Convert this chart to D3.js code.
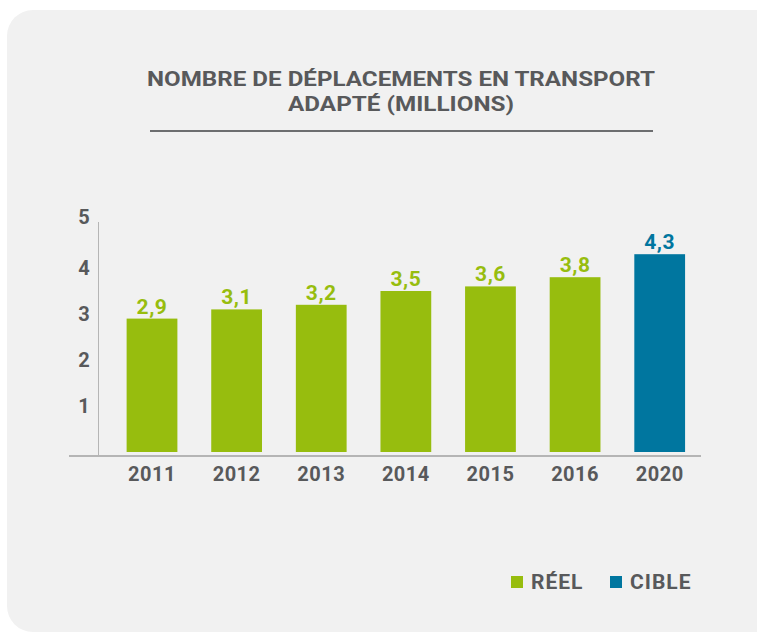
<!DOCTYPE html>
<html>
<head>
<meta charset="utf-8">
<script src="https://cdn.jsdelivr.net/npm/d3@7"></script>
<style>
  html, body { margin: 0; padding: 0; background: #fff; }
  svg { display: block; }
</style>
</head>
<body>
<div id="chart"></div>
<script>
// ── Données ──
const annees = ['2011', '2012', '2013', '2014', '2015', '2016', '2020'];
const valeurs = [2.9, 3.1, 3.2, 3.5, 3.6, 3.8, 4.3];
const types = ['reel', 'reel', 'reel', 'reel', 'reel', 'reel', 'cible'];
const ticksY = [1, 2, 3, 4, 5];
const titre = ['NOMBRE DE DÉPLACEMENTS EN TRANSPORT', 'ADAPTÉ (MILLIONS)'];
const legende = [{ cle: 'reel', texte: 'RÉEL' }, { cle: 'cible', texte: 'CIBLE' }];

// ── Couleurs ──
const COULEURS = {
  reel: '#97bd0e',
  cible: '#00769f',
  texte: '#58595b',
  fond: '#f1f1f1',
  axe: '#b5b5b5'
};
const POLICE = "Roboto, 'Open Sans', sans-serif";

const W = 757, H = 634;
const svg = d3.select('#chart').append('svg')
  .attr('width', W)
  .attr('height', H);

// panneau gris arrondi
svg.append('rect')
  .attr('x', 7).attr('y', 10)
  .attr('width', 790).attr('height', 622)
  .attr('rx', 26)
  .attr('fill', COULEURS.fond);

// ── Titre ──
const largeursTitre = [508, 226];
titre.forEach((t, i) => {
  svg.append('text')
    .attr('x', 401)
    .attr('y', 86 + i * 25)
    .attr('text-anchor', 'middle')
    .attr('textLength', largeursTitre[i])
    .attr('lengthAdjust', 'spacingAndGlyphs')
    .style('font-family', POLICE)
    .style('font-weight', 700)
    .style('font-size', '21px')
    .style('fill', COULEURS.texte)
    .text(t);
});

svg.append('line')
  .attr('x1', 150).attr('x2', 653)
  .attr('y1', 131).attr('y2', 131)
  .attr('stroke', '#6d6e70')
  .attr('stroke-width', 2);

// ── Échelles ──
const x = d3.scaleBand()
  .domain(annees)
  .range([109.7, 702])
  .paddingInner(0.4)
  .paddingOuter(0.2);

const y = d3.scaleLinear()
  .domain([0, 5])
  .range([452, 222]);

// axe vertical
svg.append('line')
  .attr('x1', 98.5).attr('x2', 98.5)
  .attr('y1', y(5)).attr('y2', 456)
  .attr('stroke', COULEURS.axe)
  .attr('stroke-width', 1);

// axe horizontal
svg.append('line')
  .attr('x1', 69).attr('x2', 701)
  .attr('y1', 456).attr('y2', 456)
  .attr('stroke', COULEURS.axe)
  .attr('stroke-width', 2);

// étiquettes Y
svg.selectAll('.tick-y')
  .data(ticksY)
  .enter()
  .append('text')
  .attr('class', 'tick-y')
  .attr('x', 84)
  .attr('y', d => y(d) - (d === 5 ? 5 : 0))
  .attr('dy', '0.36em')
  .attr('text-anchor', 'middle')
  .style('font-family', POLICE)
  .style('font-weight', 700)
  .style('font-size', '20px')
  .style('fill', COULEURS.texte)
  .text(d => d);

// ── Barres ──
const donnees = annees.map((a, i) => ({ annee: a, valeur: valeurs[i], type: types[i] }));

svg.selectAll('.barre')
  .data(donnees)
  .enter()
  .append('rect')
  .attr('class', 'barre')
  .attr('x', d => x(d.annee))
  .attr('y', d => y(d.valeur))
  .attr('width', x.bandwidth())
  .attr('height', d => y(0) - y(d.valeur))
  .attr('fill', d => COULEURS[d.type]);

// valeurs au-dessus des barres
svg.selectAll('.valeur')
  .data(donnees)
  .enter()
  .append('text')
  .attr('class', 'valeur')
  .attr('x', d => x(d.annee) + x.bandwidth() / 2)
  .attr('y', d => y(d.valeur) - 5)
  .attr('text-anchor', 'middle')
  .style('font-family', POLICE)
  .style('font-weight', 700)
  .style('font-size', '21px')
  .style('letter-spacing', '0.5px')
  .style('fill', d => COULEURS[d.type])
  .text(d => d3.format('.1f')(d.valeur).replace('.', ','));

// années
svg.selectAll('.annee')
  .data(donnees)
  .enter()
  .append('text')
  .attr('class', 'annee')
  .attr('x', d => x(d.annee) + x.bandwidth() / 2)
  .attr('y', 481)
  .attr('text-anchor', 'middle')
  .style('font-family', POLICE)
  .style('font-weight', 700)
  .style('font-size', '20px')
  .style('letter-spacing', '0.5px')
  .style('fill', COULEURS.texte)
  .text(d => d.annee);

// ── Légende ──
const posLegende = [511, 610];
legende.forEach((l, i) => {
  const g = svg.append('g').attr('transform', `translate(${posLegende[i]},576)`);
  g.append('rect')
    .attr('width', 12).attr('height', 12)
    .attr('fill', COULEURS[l.cle]);
  g.append('text')
    .attr('x', 20)
    .attr('y', 13)
    .style('font-family', POLICE)
    .style('font-weight', 700)
    .style('font-size', '21px')
    .style('letter-spacing', '1px')
    .style('fill', COULEURS.texte)
    .text(l.texte);
});
</script>
</body>
</html>
